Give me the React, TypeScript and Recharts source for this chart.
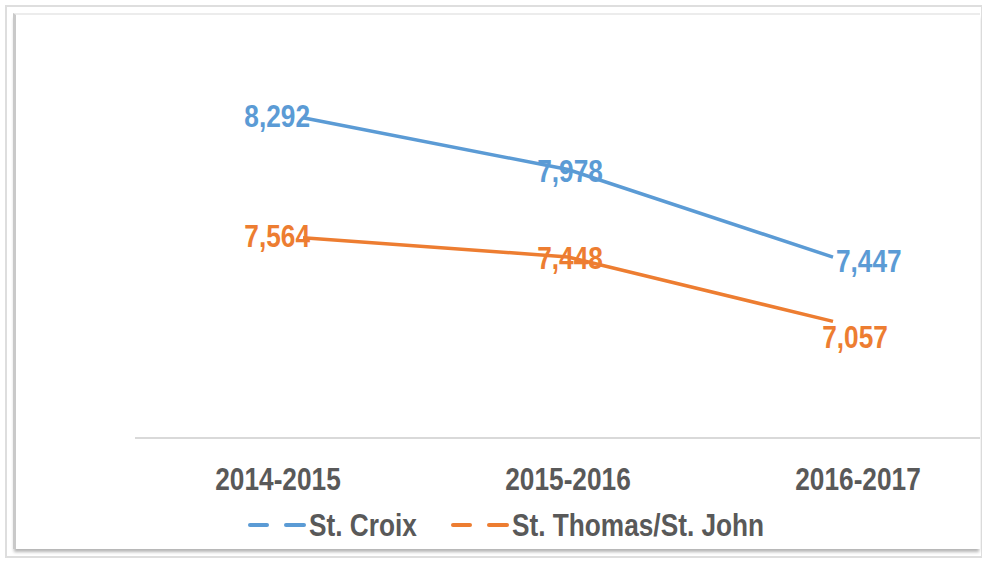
import React from "react";
import { LineChart, Line, XAxis, YAxis, LabelList } from "recharts";

const years = ["2014-2015", "2015-2016", "2016-2017"];
const stCroix = [8292, 7978, 7447];
const stThomas = [7564, 7448, 7057];
const seriesNames = ["St. Croix", "St. Thomas/St. John"];

const BLUE = "#5B9BD5";
const ORANGE = "#ED7D31";
const GREY = "#595959";
const FONT = "'Liberation Sans', Arial, sans-serif";
const NARROW = 0.82; // no Arial Narrow here, so squeeze the bold sans instead

const fmt = (v: number) => String(v).replace(/\B(?=(\d{3})+(?!\d))/g, ",");

const data = years.map((year, i) => ({ year, croix: stCroix[i], thomas: stThomas[i] }));

function NarrowText({ x, y, anchor, color, children }: any) {
  return (
    <text
      transform={`translate(${x},${y}) scale(${NARROW},1)`}
      textAnchor={anchor}
      fill={color}
      fontSize={32}
      fontWeight="bold"
      fontFamily={FONT}
    >
      {children}
    </text>
  );
}

type Place = "left" | "center" | "right" | "below";

// data labels sit around the point the way the workbook had them
const makeLabel = (color: string, places: Place[]) => (props: any) => {
  const { x, y, value, index } = props;
  const p = places[index];
  let tx = x + 2;
  let ty = y + 12;
  let anchor = "middle";
  if (p === "left") {
    tx = x + 7;
    ty = y + 9;
    anchor = "end";
  } else if (p === "right") {
    tx = x + 3;
    ty = y + 15;
    anchor = "start";
  } else if (p === "below") {
    tx = x + 22;
    ty = y + 27;
  }
  return (
    <NarrowText x={tx} y={ty} anchor={anchor} color={color}>
      {fmt(value)}
    </NarrowText>
  );
};

const YearTick = (props: any) => {
  const { x, y, payload } = props;
  return (
    <NarrowText x={x} y={y + 22} anchor="middle" color={GREY}>
      {payload.value}
    </NarrowText>
  );
};

export default function App() {
  const colors = [BLUE, ORANGE];
  const legendX = [250, 453];
  return (
    <div style={{ position: "absolute", left: 0, top: 0, width: 982, height: 561, background: "#fff", overflow: "hidden" }}>
      {/* picture frame */}
      <div style={{ position: "absolute", left: 5, top: 5, width: 974, height: 549, border: "2px solid #dedede" }} />
      <div
        style={{
          position: "absolute",
          left: 13,
          top: 13,
          width: 964,
          height: 534,
          borderLeft: "3px solid #c9c9c9",
          borderTop: "2px solid #ececec",
          boxShadow: "0 4px 3px -1px #b5b5b5",
        }}
      />
      <div style={{ position: "absolute", left: 0, top: 0 }}>
        <LineChart width={982} height={561} data={data} margin={{ top: 34, right: 2, left: 135, bottom: 63 }}>
          <YAxis hide domain={[6350, 8800]} />
          <XAxis xAxisId="pts" dataKey="year" hide padding={{ left: 168, right: 147 }} />
          <XAxis
            xAxisId="lab"
            dataKey="year"
            height={60}
            interval={0}
            padding={{ left: 143, right: 122 }}
            axisLine={{ stroke: "#d9d9d9", strokeWidth: 2 }}
            tickLine={false}
            tickSize={0}
            tickMargin={30}
            tick={<YearTick />}
          />
          <Line
            xAxisId="pts"
            dataKey="croix"
            name={seriesNames[0]}
            stroke={BLUE}
            strokeWidth={3.5}
            dot={false}
            isAnimationActive={false}
          >
            <LabelList dataKey="croix" content={makeLabel(BLUE, ["left", "center", "right"])} />
          </Line>
          <Line
            xAxisId="pts"
            dataKey="thomas"
            name={seriesNames[1]}
            stroke={ORANGE}
            strokeWidth={3.5}
            dot={false}
            isAnimationActive={false}
          >
            <LabelList dataKey="thomas" content={makeLabel(ORANGE, ["left", "center", "below"])} />
          </Line>
        </LineChart>
      </div>
      <svg width={982} height={561} style={{ position: "absolute", left: 0, top: 0 }}>
        {seriesNames.map((n, i) => (
          <g key={n}>
            <line x1={legendX[i]} y1={525} x2={legendX[i] + 17} y2={525} stroke={colors[i]} strokeWidth={4} strokeLinecap="round" />
            <line x1={legendX[i] + 36} y1={525} x2={legendX[i] + 54} y2={525} stroke={colors[i]} strokeWidth={4} strokeLinecap="round" />
            <NarrowText x={legendX[i] + 59} y={536} anchor="start" color={GREY}>
              {n}
            </NarrowText>
          </g>
        ))}
      </svg>
    </div>
  );
}
